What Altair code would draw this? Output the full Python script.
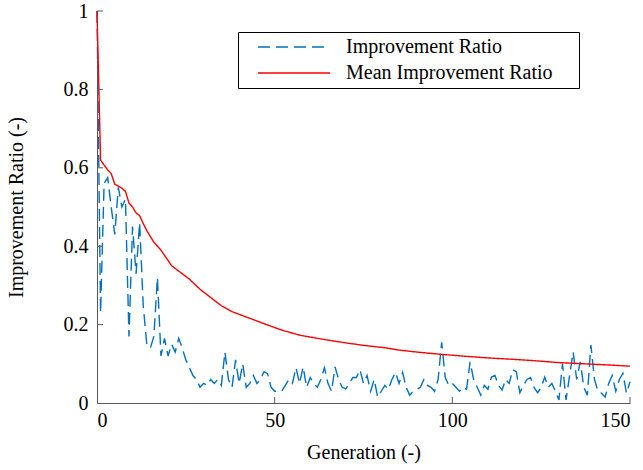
import altair as alt
import pandas as pd

# Improvement ratio per generation (generation 0..150)
gens = list(range(0, 151))
improvement = [
    1.0, 0.23, 0.56, 0.575, 0.50, 0.43, 0.55, 0.50, 0.52, 0.17,
    0.45, 0.33, 0.46, 0.25, 0.15, 0.14, 0.17, 0.32, 0.12, 0.165,
    0.12, 0.15, 0.13, 0.165, 0.14, 0.11, 0.09, 0.07, 0.06, 0.04,
    0.05, 0.045, 0.06, 0.05, 0.06, 0.045, 0.13, 0.06, 0.04, 0.11,
    0.05, 0.10, 0.04, 0.05, 0.07, 0.05, 0.06, 0.08, 0.075, 0.04,
    0.03, 0.03, 0.03, 0.045, 0.06, 0.05, 0.09, 0.05, 0.092, 0.04,
    0.065, 0.05, 0.04, 0.06, 0.09, 0.05, 0.03, 0.092, 0.06, 0.04,
    0.036, 0.05, 0.065, 0.065, 0.085, 0.05, 0.07, 0.03, 0.06, 0.015,
    0.03, 0.045, 0.035, 0.06, 0.078, 0.05, 0.078, 0.04, 0.02, 0.03,
    0.035, 0.04, 0.06, 0.045, 0.04, 0.03, 0.06, 0.155, 0.065, 0.045,
    0.05, 0.04, 0.03, 0.04, 0.035, 0.105, 0.06, 0.04, 0.02, 0.045,
    0.035, 0.066, 0.07, 0.045, 0.033, 0.06, 0.05, 0.085, 0.08, 0.026,
    0.045, 0.06, 0.065, 0.04, 0.026, 0.04, 0.066, 0.04, 0.05, 0.03,
    0.008, 0.10, 0.008, 0.07, 0.13, 0.06, 0.105, 0.04, 0.02, 0.148,
    0.06, 0.03, 0.025, 0.015, 0.05, 0.07, 0.03, 0.06, 0.076, 0.025,
    0.054,
]

# Mean improvement ratio, read at selected generations
mean_gens = [0, 1, 2, 3, 4, 5, 6, 7, 8, 9, 10, 11, 12, 13, 14, 15, 16, 17,
             18, 21, 26, 29, 31, 35, 38, 43, 48, 52, 57, 62, 66, 71, 76, 81,
             85, 91, 97, 104, 110, 116, 123, 130, 137, 144, 150]
mean_vals = [1.0, 0.62, 0.607, 0.595, 0.585, 0.558, 0.553, 0.548, 0.54, 0.51,
             0.50, 0.485, 0.478, 0.458, 0.44, 0.425, 0.41, 0.40, 0.39, 0.35,
             0.316, 0.29, 0.276, 0.248, 0.233, 0.216, 0.199, 0.186, 0.173,
             0.165, 0.159, 0.152, 0.146, 0.141, 0.135, 0.129, 0.124, 0.119,
             0.115, 0.112, 0.108, 0.103, 0.100, 0.097, 0.094]

series_names = ["Improvement Ratio", "Mean Improvement Ratio"]
y_ticks = [0, 0.2, 0.4, 0.6, 0.8, 1.0]
x_ticks = [0, 50, 100, 150]

df = pd.concat([
    pd.DataFrame({"gen": gens, "val": improvement, "series": series_names[0]}),
    pd.DataFrame({"gen": mean_gens, "val": mean_vals, "series": series_names[1]}),
], ignore_index=True)

FONT = "Liberation Serif"
W, H = 533, 392

xscale = alt.Scale(domain=[0, 150], nice=False, zero=False)
yscale = alt.Scale(domain=[0, 1], nice=False)

legend = alt.Legend(title=" ", titleOrient="right", titlePadding=21,
                    orient="none", legendX=141, legendY=21)

lines = alt.Chart(df).mark_line(strokeWidth=1.4).encode(
    x=alt.X("gen:Q", scale=xscale,
            axis=alt.Axis(values=x_ticks, title="Generation (-)", grid=False,
                          tickSize=0, labelPadding=7, titlePadding=12)),
    y=alt.Y("val:Q", scale=yscale,
            axis=alt.Axis(values=y_ticks, format="~g", title="Improvement Ratio (-)",
                          grid=False, tickSize=0, labelPadding=9, titlePadding=37)),
    color=alt.Color("series:N",
                    scale=alt.Scale(domain=series_names, range=["#0070C0", "#FF0000"]),
                    legend=legend),
    strokeDash=alt.StrokeDash("series:N",
                              scale=alt.Scale(domain=series_names, range=[[12, 6], [1, 0]]),
                              legend=legend),
    order=alt.Order("gen:Q"),
)

ytick_df = pd.DataFrame({"t": y_ticks[1:]})
xtick_df = pd.DataFrame({"t": x_ticks[1:]})

yticks = alt.Chart(ytick_df).mark_rule(color="#595959", strokeWidth=1).encode(
    y=alt.Y("t:Q", scale=yscale), x=alt.value(0), x2=alt.value(6))
xticks = alt.Chart(xtick_df).mark_rule(color="#595959", strokeWidth=1).encode(
    x=alt.X("t:Q", scale=xscale), y=alt.value(H), y2=alt.value(H - 6))

chart = alt.layer(lines, yticks, xticks).properties(
    width=W, height=H,
    autosize=alt.AutoSizeParams(type="none"),
    padding={"left": 97, "top": 11, "right": 13, "bottom": 67},
    background="white",
).configure_view(stroke=None).configure_axis(
    domainColor="#595959", domainWidth=1,
    labelFont=FONT, labelFontSize=20, labelColor="black",
    titleFont=FONT, titleFontSize=20, titleFontWeight="normal", titleColor="black",
).configure_legend(
    strokeColor="black", strokeWidth=1, fillColor="white",
    padding=5, symbolType="M-4,0H4", symbolSize=324, symbolStrokeWidth=1.4,
    symbolOffset=41,
    labelFont=FONT, labelFontSize=20, labelColor="black", labelOffset=42,
    titleFont=FONT, titleFontSize=20,
    rowPadding=6, labelLimit=400,
)

chart.save("out.html", embed_options={"renderer": "svg", "actions": False})
